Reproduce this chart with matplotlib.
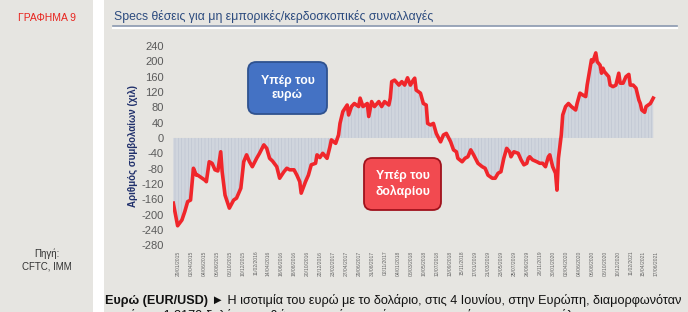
import matplotlib
matplotlib.use("Agg")
import matplotlib.pyplot as plt
from matplotlib.patches import FancyBboxPatch
from matplotlib.text import Annotation
import numpy as np
import pandas as pd

plt.rcParams['font.family'] = ['Liberation Sans', 'DejaVu Sans']
plt.rcParams['hatch.linewidth'] = 0.4

# net speculative positions (thousand contracts), weekly index from first week
weeks = [0, 3, 6, 8, 10, 12, 14, 16, 17, 20, 22, 23, 25, 27, 29, 31, 33, 34, 36, 39,
         42, 44, 47, 49, 51, 53, 55, 58, 60, 63, 65, 67, 69, 72, 74, 77, 79, 81, 84, 86,
         88, 89, 92, 94, 96, 99, 100, 102, 104, 107, 109, 110, 113, 115, 116, 118, 121, 122, 124, 126,
         129, 130, 132, 135, 136, 138, 140, 143, 145, 147, 150, 151, 152, 154, 157, 159, 161, 163, 165, 167,
         168, 169, 172, 174, 176, 177, 179, 181, 183, 186, 188, 190, 193, 195, 197, 198, 201, 203, 205, 207,
         209, 212, 215, 217, 219, 222, 224, 226, 228, 230, 232, 234, 235, 237, 240, 242, 244, 246, 247, 248,
         250, 253, 255, 257, 259, 261, 262, 264, 266, 267, 268, 270, 271, 273, 275, 277, 280, 281, 283, 285,
         287, 288, 290, 291, 292, 294, 295, 297, 298, 299, 300, 303, 304, 306, 308, 310, 311, 313, 315, 317,
         318, 320, 322, 324, 325, 326, 328, 329, 332, 334]
positions = [-170, -229, -214, -192, -166, -162, -79, -97, -97, -105, -110, -114, -62, -66, -83, -86, -36, -88, -149, -183,
             -162, -157, -131, -62, -44, -62, -75, -53, -40, -18, -27, -53, -60, -75, -105, -88, -79, -83, -83, -97,
             -114, -144, -114, -97, -70, -66, -44, -51, -40, -53, -23, -5, -14, 8, 38, 69, 86, 60, 82, 90,
             82, 104, 82, 90, 56, 95, 82, 95, 82, 95, 86, 104, 147, 151, 138, 147, 138, 157, 138, 151,
             156, 125, 117, 90, 86, 38, 34, 38, 12, -10, 8, 12, -10, -31, -36, -53, -62, -53, -49, -31,
             -44, -66, -75, -79, -97, -105, -105, -92, -88, -53, -27, -36, -49, -36, -40, -57, -70, -66, -53, -49,
             -57, -62, -66, -66, -75, -49, -44, -75, -92, -136, -53, 8, 60, 82, 90, 82, 73, 90, 117, 112,
             108, 138, 182, 204, 199, 222, 199, 190, 169, 182, 173, 160, 138, 134, 138, 169, 143, 143, 160, 166,
             138, 138, 130, 99, 90, 73, 67, 82, 90, 104]

start_date = pd.Timestamp('2015-01-06')
tick_weeks = np.arange(3.3, 338, 9)
tick_labels = [(start_date + pd.Timedelta(weeks=float(w))).strftime('%d/%m/%Y') for w in tick_weeks]
yticks = list(range(-280, 241, 40))

bg = '#e6e5e1'
W, H = 688, 312
fig = plt.figure(figsize=(W / 100, H / 100), dpi=100, facecolor=bg)

# white separator strip between the two panels
fig.patches.append(plt.Rectangle((93 / W, 0), 11 / W, 1, transform=fig.transFigure,
                                 facecolor='white', edgecolor='none'))

ax = fig.add_axes([173.3 / W, 1 - 245.3 / H, 485.7 / W, 199.3 / H])
ax.set_facecolor('none')
ax.fill_between(weeks, positions, 0, facecolor='#d0d5dd', edgecolor='#bcc3cf',
                hatch='|||||', linewidth=0)
ax.plot(weeks, positions, color='#f0262b', linewidth=2.6, solid_joinstyle='round')
ax.set_xlim(0, 338)
ax.set_ylim(-280, 240)
ax.set_yticks(yticks)
ax.set_yticklabels([str(v) for v in yticks], fontsize=8, color='#5a5a5a')
ax.set_xticks(tick_weeks)
ax.set_xticklabels(tick_labels, rotation=90, fontsize=3.6, color='#666666')
ax.tick_params(axis='y', length=0, pad=7)
ax.tick_params(axis='x', length=0, pad=4)
for s in ax.spines.values():
    s.set_visible(False)

ax.set_ylabel('Αριθμός συμβολαίων (χιλ)', fontsize=7, fontweight='bold', color='#1f2f6b', labelpad=2)

# title and underline
fig.text(114 / W, 1 - 20 / H, 'Specs θέσεις για μη εμπορικές/κερδοσκοπικές συναλλαγές',
         fontsize=8.8, color='#2b4a7e', va='baseline')
fig.add_artist(plt.Line2D([113 / W, 677 / W], [1 - 25.5 / H] * 2, color='#8a99b0', lw=1.2))
fig.add_artist(plt.Line2D([113 / W, 677 / W], [1 - 27.5 / H] * 2, color='white', lw=1.5))

# left panel
fig.text(47 / W, 1 - 18 / H, 'ΓΡΑΦΗΜΑ 9', fontsize=7.5, color='#e8231d', ha='center', va='center')
fig.text(47 / W, 1 - 260 / H, 'Πηγή:\nCFTC, IMM', fontsize=7, color='#333333',
         ha='center', va='center', linespacing=1.25)


# annotation boxes
def box(x0, y0, x1, y1, fc, ec, txt):
    p = FancyBboxPatch((x0 / W, 1 - y1 / H), (x1 - x0) / W, (y1 - y0) / H,
                       boxstyle='round,pad=0,rounding_size=0.012', transform=fig.transFigure,
                       facecolor=fc, edgecolor=ec, linewidth=1.3, mutation_aspect=W / H)
    fig.patches.append(p)
    fig.text((x0 + x1) / 2 / W, 1 - (y0 + y1) / 2 / H, txt, color='white', fontsize=8.8,
             fontweight='bold', ha='center', va='center', linespacing=1.3)


box(248, 62, 327, 114, '#4472c4', '#2f528f', 'Υπέρ του\nευρώ')
box(364, 158, 441, 210, '#f24a50', '#a0121c', 'Υπέρ του\nδολαρίου')

# bottom commentary (second line is cut by the page edge, as in the source)
t1 = fig.text(105 / W, 1 - 304 / H, 'Ευρώ (EUR/USD)', fontsize=9.1, fontweight='bold',
              color='#111111', va='baseline')
fig.add_artist(Annotation(
    ' ► Η ισοτιμία του ευρώ με το δολάριο, στις 4 Ιουνίου, στην Ευρώπη, διαμορφωνόταν',
    xy=(1, 0), xycoords=t1, va='bottom', ha='left', fontsize=9.1, color='#111111'))
fig.text(105 / W, 1 - 319 / H, 'κοντά στα 1,2170 δολάρια, καθώς οι αγορές αναμένουν τα στοιχεία για την απασχόληση',
         fontsize=9.1, color='#111111', va='baseline')

fig.savefig('out.png', dpi=100, facecolor=bg)
